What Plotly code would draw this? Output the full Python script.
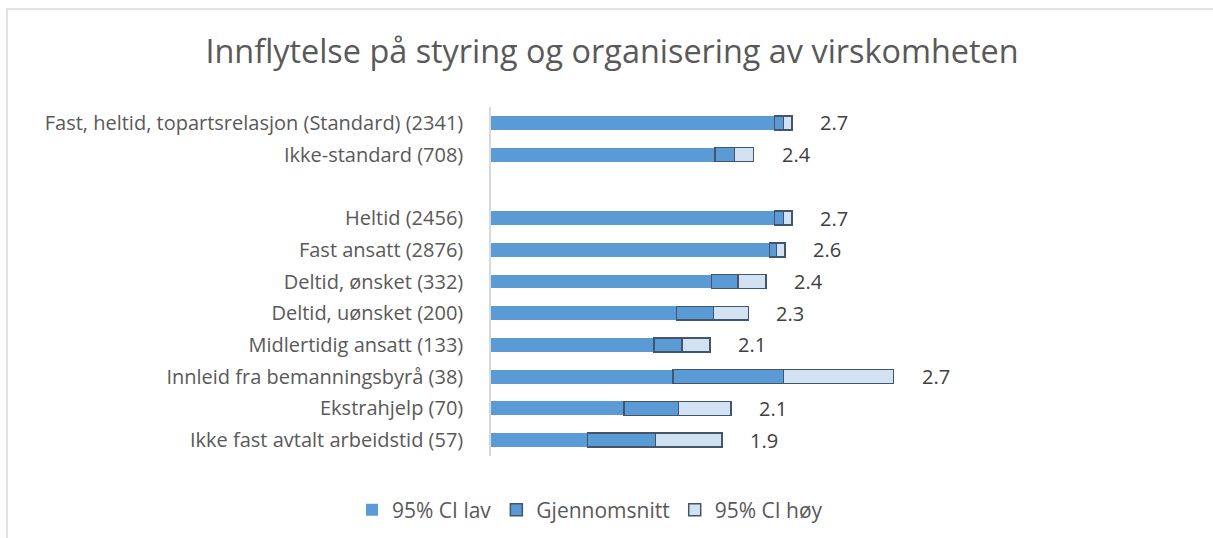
import plotly.graph_objects as go

# Groups (with sample size), top to bottom; " " is the spacer row
categories = [
    "Fast, heltid, topartsrelasjon (Standard) (2341)",
    "Ikke-standard (708)",
    " ",
    "Heltid (2456)",
    "Fast ansatt (2876)",
    "Deltid, ønsket (332)",
    "Deltid, uønsket (200)",
    "Midlertidig ansatt (133)",
    "Innleid fra bemanningsbyrå (38)",
    "Ekstrahjelp (70)",
    "Ikke fast avtalt arbeidstid (57)",
]
ci_low = [2.62, 2.28, None, 2.62, 2.59, 2.26, 2.06, 1.93, 2.04, 1.76, 1.55]
mean = [2.67, 2.39, None, 2.67, 2.63, 2.41, 2.27, 2.09, 2.67, 2.07, 1.94]
ci_high = [2.72, 2.50, None, 2.72, 2.68, 2.57, 2.47, 2.25, 3.30, 2.37, 2.32]

x_min, x_max = 1, 5

FONT = "'Open Sans', Lato, sans-serif"
BLUE = "#5B9BD5"
LIGHT = "#D3E2F2"
EDGE = "#44546A"
GRID = "#D9D9D9"


def diff(a, b):
    return [None if (p is None or q is None) else round(p - q, 4) for p, q in zip(a, b)]


fig = go.Figure()
fig.add_trace(go.Bar(
    y=categories, x=ci_low, orientation="h", name="95% CI lav",
    marker=dict(color=BLUE, line=dict(width=0)),
))
fig.add_trace(go.Bar(
    y=categories, x=diff(mean, ci_low), orientation="h", name="Gjennomsnitt",
    marker=dict(color=BLUE, line=dict(color=EDGE, width=1.5)),
))
fig.add_trace(go.Bar(
    y=categories, x=diff(ci_high, mean), orientation="h", name="95% CI høy",
    marker=dict(color=LIGHT, line=dict(color=EDGE, width=1.5)),
))

# Mean value written just past the end of each bar
for cat, hi, m in zip(categories, ci_high, mean):
    if m is None:
        continue
    fig.add_annotation(
        x=hi, y=cat, xref="x", yref="y", text=f"{m:.1f}",
        showarrow=False, xanchor="left", xshift=26,
        font=dict(family=FONT, size=20, color="#404040"),
    )

# Chart frame
fig.add_shape(
    type="rect", xref="paper", yref="paper",
    x0=(7 - 491) / 700, x1=(1220 - 491) / 700,
    y0=(456 - 545) / 349, y1=(456 - 9) / 349,
    line=dict(color=GRID, width=1.5), fillcolor="rgba(0,0,0,0)", layer="below",
)

fig.update_layout(
    width=1213, height=538,
    margin=dict(l=491, r=22, t=107, b=82, autoexpand=False),
    paper_bgcolor="white", plot_bgcolor="white",
    barmode="stack", bargap=0.56,
    title=dict(
        text="Innflytelse på styring og organisering av virskomheten",
        xref="container", yref="container", x=612 / 1213, y=1 - 52 / 538,
        xanchor="center", yanchor="middle",
        font=dict(family=FONT, size=32.4, color="#595959"),
    ),
    legend=dict(
        orientation="h", xref="paper", yref="paper",
        x=(590 - 491) / 700, y=(456 - 510) / 349,
        xanchor="center", yanchor="middle",
        font=dict(family=FONT, size=21, color="#595959"),
        itemwidth=30, traceorder="normal",
    ),
    xaxis=dict(range=[x_min, x_max], visible=False, fixedrange=True),
    yaxis=dict(
        type="category", categoryorder="array", categoryarray=categories,
        autorange="reversed", showgrid=False, zeroline=False,
        showline=True, linecolor=GRID, linewidth=1.5,
        ticks="", ticklabelstandoff=22,
        tickfont=dict(family=FONT, size=20, color="#595959"),
    ),
    showlegend=True,
)

fig.write_html("out.html")
